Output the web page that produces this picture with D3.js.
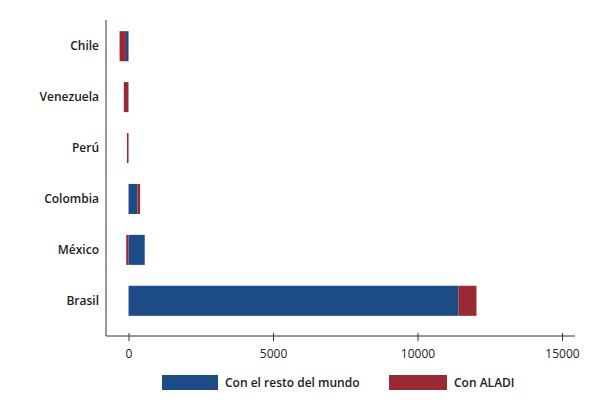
<!DOCTYPE html>
<html lang="es">
<head>
<meta charset="UTF-8" />
<script src="https://d3js.org/d3.v7.min.js"></script>
<style>
  body { margin: 0; background: #fff; }
  text { font-family: "Open Sans", sans-serif; }
</style>
</head>
<body>
<script>
// categories, top to bottom
var paises = ["Chile", "Venezuela", "Perú", "Colombia", "México", "Brasil"];
// series values
var restoMundo = [-90, -15, 0, 310, 560, 11420];
var aladi = [-220, -150, -55, 90, -80, 620];
var series = ["Con el resto del mundo", "Con ALADI"];
var colores = ["#1c4b85", "#992a33"];
var ticks = [0, 5000, 10000, 15000];

var width = 590, height = 400;
var margin = { left: 106, right: 15, top: 20, bottom: 64 };

var svg = d3.select("body").append("svg")
    .attr("width", width).attr("height", height);

var filas = paises.map(function (p, i) {
    return { pais: p, resto: restoMundo[i], aladi: aladi[i] };
});

var stack = d3.stack().keys(["resto", "aladi"])
    .offset(d3.stackOffsetDiverging);
var capas = stack(filas);

var x = d3.scaleLinear().domain([-780, 15450])
    .range([margin.left, width - margin.right]);

var y = d3.scaleBand().domain(paises)
    .range([margin.top + 1, 326]).paddingInner(0.41).paddingOuter(0.2);

// bars
svg.append("g").selectAll("g").data(capas).enter().append("g")
    .attr("fill", function (d, i) { return colores[i]; })
    .selectAll("rect").data(function (d) { return d; }).enter().append("rect")
    .attr("x", function (d) { return x(Math.min(d[0], d[1])); })
    .attr("width", function (d) { return Math.abs(x(d[1]) - x(d[0])); })
    .attr("y", function (d) { return y(d.data.pais); })
    .attr("height", y.bandwidth());

// x axis
var xAxis = svg.append("g").attr("transform", "translate(0,336)")
    .call(d3.axisBottom(x).tickValues(ticks).tickSize(5).tickPadding(8).tickFormat(d3.format("d")));
xAxis.select(".domain").attr("d", "M" + margin.left + ",0H" + (width - margin.right))
    .attr("stroke", "#333");
xAxis.selectAll(".tick line").attr("y1", -3).attr("y2", 5).attr("stroke", "#333");
xAxis.selectAll("text").attr("font-size", 12).attr("fill", "#222")
    .attr("font-family", "Open Sans, sans-serif");

// y axis
svg.append("line")
    .attr("x1", margin.left).attr("x2", margin.left)
    .attr("y1", margin.top).attr("y2", 336)
    .attr("stroke", "#333");

svg.append("g").selectAll("text").data(paises).enter().append("text")
    .attr("x", margin.left - 7)
    .attr("y", function (d) { return y(d) + y.bandwidth() / 2; })
    .attr("dy", "0.35em")
    .attr("text-anchor", "end")
    .attr("font-size", 12).attr("font-weight", 600).attr("fill", "#222")
    .text(function (d) { return d; });

// legend
var leg = [{ x: 162, w: 56 }, { x: 389, w: 58 }];
var lg = svg.append("g").selectAll("g").data(series).enter().append("g")
    .attr("transform", function (d, i) { return "translate(" + leg[i].x + ",375)"; });
lg.append("rect").attr("width", function (d, i) { return leg[i].w; }).attr("height", 15)
    .attr("fill", function (d, i) { return colores[i]; });
lg.append("text")
    .attr("x", function (d, i) { return leg[i].w + 7; })
    .attr("y", 8).attr("dy", "0.35em")
    .attr("font-size", 12).attr("font-weight", 600).attr("fill", "#222")
    .text(function (d) { return d; });
</script>
</body>
</html>
